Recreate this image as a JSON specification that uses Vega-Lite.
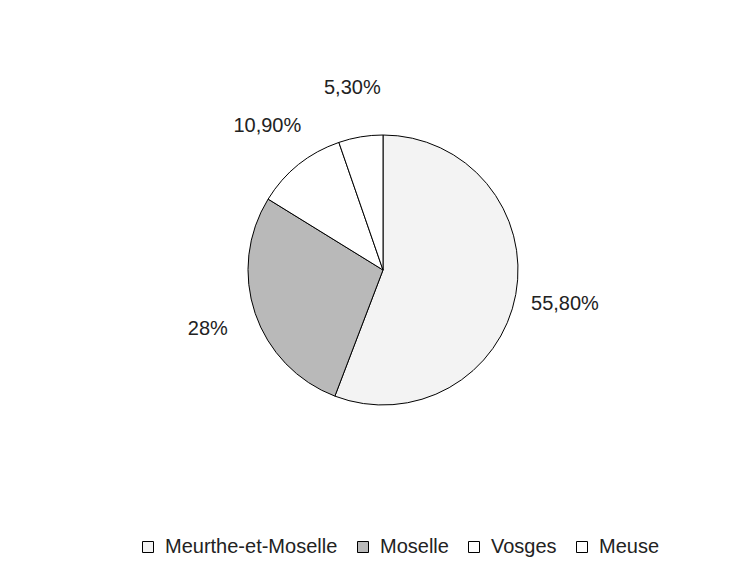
{
  "$schema": "https://vega.github.io/schema/vega-lite/v6.json",
  "autosize": "none",
  "width": 746,
  "height": 520,
  "padding": {"left": 10, "top": 10, "right": 0, "bottom": 48},
  "background": "white",
  "config": {"view": {"stroke": null}, "font": "Liberation Sans"},
  "data": {"values": [
    {"departement": "Meurthe-et-Moselle", "part": 55.8, "label": "55,80%", "ordre": 1},
    {"departement": "Moselle", "part": 28.0, "label": "28%", "ordre": 2},
    {"departement": "Vosges", "part": 10.9, "label": "10,90%", "ordre": 3},
    {"departement": "Meuse", "part": 5.3, "label": "5,30%", "ordre": 4}
  ]},
  "encoding": {
    "theta": {"field": "part", "type": "quantitative", "stack": true},
    "order": {"field": "ordre", "type": "quantitative"}
  },
  "layer": [
    {
      "mark": {"type": "arc", "outerRadius": 135, "stroke": "black", "strokeWidth": 1},
      "encoding": {
        "color": {
          "field": "departement", "type": "nominal",
          "scale": {"domain": ["Meurthe-et-Moselle", "Moselle", "Vosges", "Meuse"], "range": ["#f3f3f3", "#b9b9b9", "#ffffff", "#ffffff"]},
          "sort": ["Meurthe-et-Moselle", "Moselle", "Vosges", "Meuse"],
          "legend": {
            "title": null, "orient": "none", "direction": "horizontal",
            "legendX": 128, "legendY": 527,
            "symbolType": "square", "symbolSize": 121, "symbolStrokeColor": "black", "symbolStrokeWidth": 1,
            "labelFontSize": 20, "labelColor": "#222", "labelFont": "Liberation Sans", "labelLimit": 300,
            "columnPadding": 15, "symbolOffset": 0, "labelOffset": 7
          }
        }
      }
    },
    {
      "mark": {"type": "text", "radius": 185, "fontSize": 20, "color": "#222", "font": "Liberation Sans"},
      "encoding": {"text": {"field": "label", "type": "nominal"}}
    }
  ]
}
